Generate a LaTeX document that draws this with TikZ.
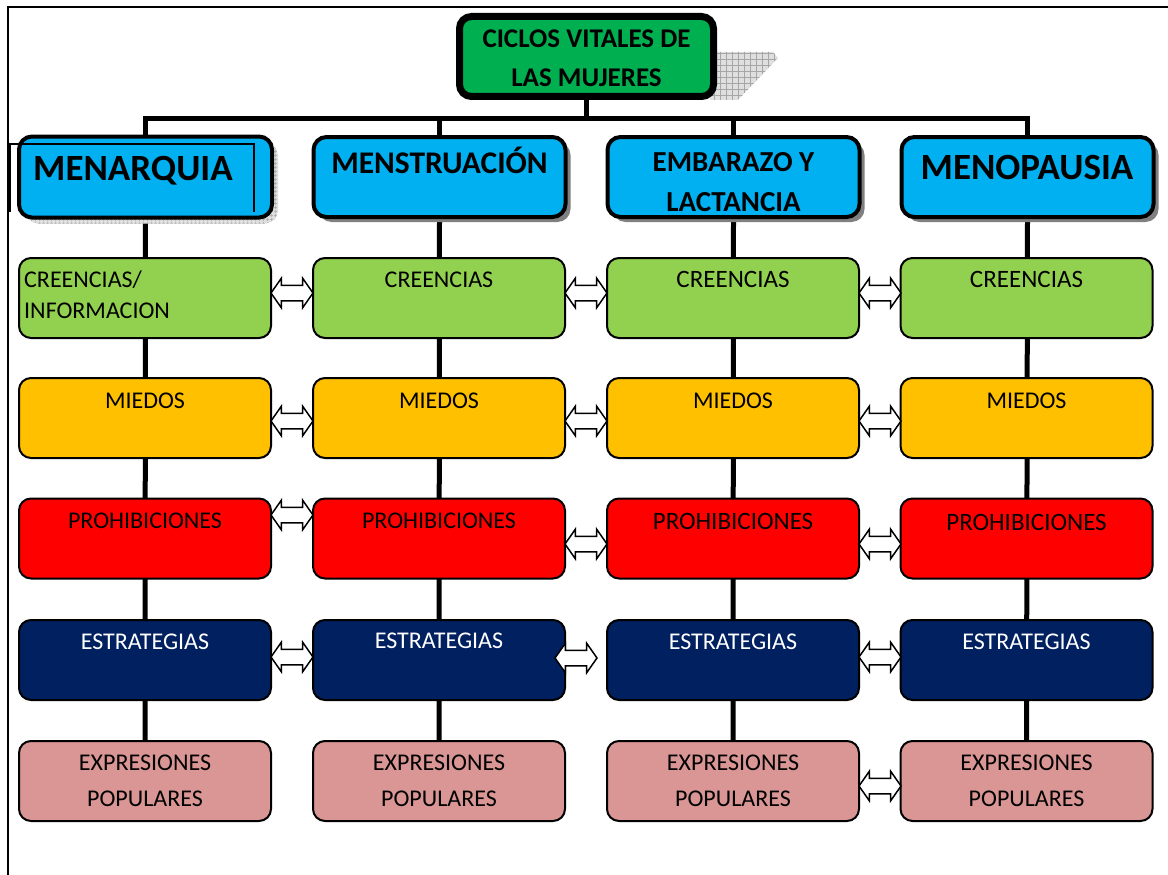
\documentclass[tikz,border=0pt]{standalone}
\usepackage{fontspec}
\setmainfont{Carlito}
\usetikzlibrary{shapes.arrows,patterns.meta,backgrounds,shadows}
\definecolor{topgreen}{HTML}{00B050}
\definecolor{headblue}{HTML}{00B0F0}
\definecolor{rgreen}{HTML}{92D050}
\definecolor{rgold}{HTML}{FFC000}
\definecolor{rred}{HTML}{FF0000}
\definecolor{rnavy}{HTML}{002060}
\definecolor{rpink}{HTML}{D99694}
\definecolor{shgray}{HTML}{808080}
\begin{document}
\begin{tikzpicture}[x=1pt,y=-1pt,
  rowbox/.style={draw=black, line width=2, rounded corners=12, minimum width=252, minimum height=80, inner sep=0},
  headbox/.style={draw=black, line width=4, rounded corners=13, fill=headblue, minimum width=252, minimum height=80, inner sep=0,
     general shadow={shadow xshift=5pt, shadow yshift=-5pt, fill=shgray}},
  lbl/.style={inner sep=0, anchor=base, font=\fontsize{24}{24}\selectfont},
  lblb/.style={lbl, font=\fontsize{25}{25}\selectfont},
  hlbl/.style={inner sep=0, anchor=base},
  conn/.style={line width=5, line cap=rect},
  dblarrow/.style={double arrow, draw=black, fill=white, line width=1.5, minimum height=42, minimum width=28,
     inner sep=7, double arrow head extend=7, double arrow tip angle=110}
]
\useasboundingbox (0,0) rectangle (1168,875);

% frame
\coordinate (fa) at (1168,7);
\coordinate (fb) at (8,7);
\coordinate (fc) at (8,875);
\draw[line width=2.5] (fa) -- (fb) -- (fc);

% top box
\node[draw=black, line width=7, rounded corners=12, fill=topgreen, minimum width=254, minimum height=80, inner sep=0] (top) at (586.5,56.5) {};
\node[hlbl, font=\bfseries\fontsize{27}{27}\selectfont] (topa) at (586.5,48) {CICLOS VITALES DE};
\node[hlbl, font=\bfseries\fontsize{27}{27}\selectfont] (topb) at (586.5,86) {LAS MUJERES};

% header boxes
\node[draw=black, line width=4, rounded corners=13, fill=headblue, minimum width=253, minimum height=81, inner sep=0,
   general shadow={shadow xshift=6pt, shadow yshift=-6pt, fill=gray!25},
   general shadow={shadow xshift=6pt, shadow yshift=-6pt, pattern={Hatch[angle=0,distance=4pt,line width=0.4pt]}, pattern color=gray!70}] (h1) at (145.5,177) {};
\node[headbox] (h2) at (439.5,177) {};
\node[headbox] (h3) at (733.5,177) {};
\node[headbox] (h4) at (1027.5,177) {};

\node[hlbl, anchor=base west, font=\bfseries\fontsize{37}{37}\selectfont] (t1) at (33,180) {MENARQUIA};
\node[hlbl, font=\bfseries\fontsize{31.5}{31.5}\selectfont] (t2) at (439.5,173) {MENSTRUACIÓN};
\node[hlbl, font=\bfseries\fontsize{29}{29}\selectfont] (t3a) at (733.5,171) {EMBARAZO Y};
\node[hlbl, font=\bfseries\fontsize{29}{29}\selectfont] (t3b) at (733.5,211) {LACTANCIA};
\node[hlbl, font=\bfseries\fontsize{37}{37}\selectfont] (t4) at (1027,179) {MENOPAUSIA};

% odd frame over MENARQUIA
\coordinate (ma) at (254,212);
\coordinate (mb) at (254,144);
\coordinate (mc) at (9,144);
\coordinate (md) at (9,212);
\draw[line width=1.5] (ma) -- (mb) -- (mc);
\draw[line width=3.5] (mc) -- (md);

% row boxes
\foreach \c/\x in {1/145,2/439,3/733,4/1026.5}{
  \node[rowbox, fill=rgreen] (g\c) at (\x,298) {};
  \node[rowbox, fill=rgold] (m\c) at (\x,418) {};
  \node[rowbox, fill=rred] (p\c) at (\x,538.5) {};
  \node[rowbox, fill=rnavy] (s\c) at (\x,660) {};
  \node[rowbox, fill=rpink] (e\c) at (\x,781) {};
}

% row texts
\node[lbl, anchor=base west] (g1a) at (24,287) {CREENCIAS/};
\node[lbl, anchor=base west] (g1b) at (24,318) {INFORMACION};
\node[lbl] (g2t) at (439,287) {CREENCIAS};
\node[lblb] (g3t) at (733,287) {CREENCIAS};
\node[lblb] (g4t) at (1026.5,287) {CREENCIAS};

\node[lbl] (m1t) at (145,408) {MIEDOS};
\node[lbl] (m2t) at (439,408) {MIEDOS};
\node[lbl] (m3t) at (733,408) {MIEDOS};
\node[lbl] (m4t) at (1026.5,408) {MIEDOS};

\node[lbl] (p1t) at (145,528) {PROHIBICIONES};
\node[lbl] (p2t) at (439,528) {PROHIBICIONES};
\node[lblb] (p3t) at (733,529) {PROHIBICIONES};
\node[lblb] (p4t) at (1026.5,530) {PROHIBICIONES};

\node[lbl, text=white] (s1t) at (145,649) {ESTRATEGIAS};
\node[lbl, text=white] (s2t) at (439,648) {ESTRATEGIAS};
\node[lbl, text=white] (s3t) at (733,649) {ESTRATEGIAS};
\node[lbl, text=white] (s4t) at (1026.5,649) {ESTRATEGIAS};

\foreach \c/\x in {1/145,2/439,3/733,4/1026.5}{
  \node[lbl] (e\c a) at (\x,770) {EXPRESIONES};
  \node[lbl] (e\c b) at (\x,806) {POPULARES};
}

% double arrows
\node[dblarrow] (ag12) at (292,293) {};
\node[dblarrow] (ag23) at (586,293) {};
\node[dblarrow] (ag34) at (880,293) {};
\node[dblarrow] (am12) at (292,421) {};
\node[dblarrow] (am23) at (586,421) {};
\node[dblarrow] (am34) at (880,421) {};
\node[dblarrow] (ap12) at (292,515) {};
\node[dblarrow] (ap23) at (586,544) {};
\node[dblarrow] (ap34) at (880,544) {};
\node[dblarrow] (as12) at (292,657) {};
\node[dblarrow] (as23) at (576,658) {};
\node[dblarrow] (as34) at (880,657) {};
\node[dblarrow] (ae34) at (880,786) {};

% connectors behind
\begin{scope}[on background layer]
  \coordinate (bus) at (586.5,118);
  \coordinate (sa) at (710,52);
  \coordinate (sb) at (773,52);
  \coordinate (sc) at (778,58);
  \coordinate (sd) at (738,100);
  \coordinate (se) at (710,100);
  \path[preaction={fill=gray!25}, pattern={Hatch[angle=0,distance=6pt,line width=0.4pt]}, pattern color=gray!70]
     (sa) -- (sb) -- (sc) -- (sd) -- (se) -- cycle;
  \draw[conn] (top.south) -- (bus);
  \draw[conn] (h1.north) -- (h1.north |- bus) -- (h4.north |- bus) -- (h4.north);
  \draw[conn] (h2.north) -- (h2.north |- bus);
  \draw[conn] (h3.north) -- (h3.north |- bus);
  \foreach \c in {1,2,3,4}{
    \draw[conn] (h\c.south) -- (e\c.north);
  }
\end{scope}
\end{tikzpicture}
\end{document}
